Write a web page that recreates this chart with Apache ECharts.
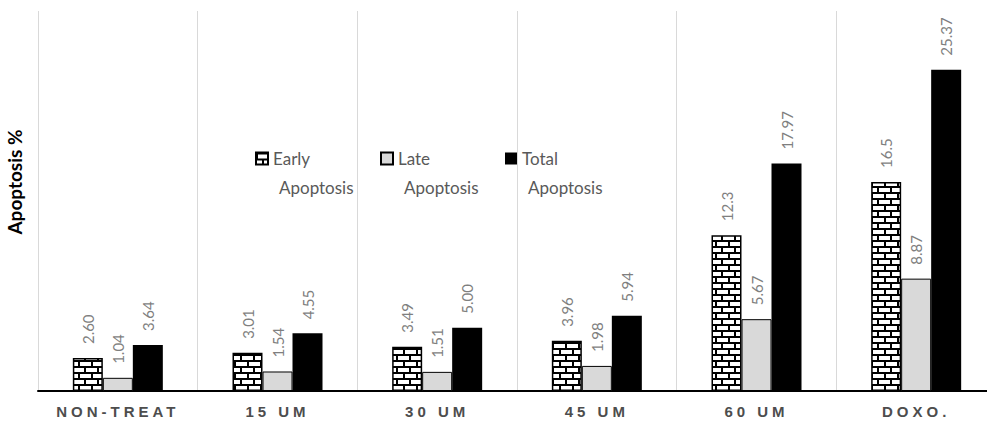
<!DOCTYPE html>
<html>
<head>
<meta charset="utf-8">
<script src="https://cdn.jsdelivr.net/npm/echarts@6/dist/echarts.min.js"></script>
<style>
  html, body { margin: 0; padding: 0; background: #fff; overflow: hidden; }
  /* the plot runs slightly past the right edge of the page */
  #chart { width: 1000px; height: 422px; }
  /* spaced-out category labels */
  #chart text[style*="Liberation Sans"],
  #chart text[font-family*="Liberation Sans"] { letter-spacing: 4px; }
</style>
</head>
<body>
<div id="chart"></div>
<script>
const categories = ['NON-TREAT', '15 UM', '30 UM', '45 UM', '60 UM', 'DOXO.'];
const seriesNames = ['Early Apoptosis', 'Late Apoptosis', 'Total Apoptosis'];
const earlyLabels = ['2.60', '3.01', '3.49', '3.96', '12.3', '16.5'];
const lateLabels = ['1.04', '1.54', '1.51', '1.98', '5.67', '8.87'];
const totalLabels = ['3.64', '4.55', '5.00', '5.94', '17.97', '25.37'];
const yMin = 0;
const yMax = 30;

const earlyValues = earlyLabels.map(Number);
const lateValues = lateLabels.map(Number);
const totalValues = totalLabels.map(Number);

// brick-wall fill tile
function brickTile() {
  const w = 13, h = 12;
  const c = document.createElement('canvas');
  c.width = w; c.height = h;
  const g = c.getContext('2d');
  g.fillStyle = '#fff';
  g.fillRect(0, 0, w, h);
  g.fillStyle = '#000';
  g.fillRect(0, 0, w, 2);
  g.fillRect(0, 6, w, 2);
  g.fillRect(0, 0, 2, 6);
  g.fillRect(6, 6, 2, 6);
  return c;
}
const tile = brickTile();

function valueLabel(texts) {
  return {
    show: true,
    position: 'top',
    rotate: 90,
    align: 'left',
    verticalAlign: 'middle',
    distance: 14,
    color: '#7f7f7f',
    fontFamily: 'Lato',
    fontSize: 15,
    formatter: p => texts[p.dataIndex]
  };
}

const legendFont = { fontSize: 17, fontFamily: 'Lato', color: '#595959', lineHeight: 29 };

const chart = echarts.init(document.getElementById('chart'), null, { renderer: 'svg' });
chart.setOption({
  animation: false,
  backgroundColor: '#fff',
  grid: { left: 38, top: 11, width: 958, height: 380, outerBoundsMode: 'none' },
  legend: {
    left: 250,
    top: 116,
    icon: 'rect',
    itemWidth: 12,
    itemHeight: 12,
    itemGap: 7,
    formatter: name => {
      const parts = name.split(' ');
      return '{s| }\n{a|' + parts[0] + '}\n{b|' + parts.slice(1).join(' ') + '}';
    },
    textStyle: {
      color: '#595959',
      fontFamily: 'Lato',
      fontSize: 17,
      rich: {
        s: Object.assign({ width: 100 }, legendFont),
        a: Object.assign({}, legendFont),
        b: Object.assign({ padding: [0, 0, 0, 6] }, legendFont)
      }
    },
    data: seriesNames
  },
  xAxis: {
    type: 'category',
    data: categories,
    axisTick: { show: false },
    axisLine: { lineStyle: { color: '#000', width: 2 } },
    splitLine: { show: true, lineStyle: { color: '#d9d9d9', width: 1 } },
    axisLabel: {
      color: '#4d4d4d',
      fontFamily: 'Liberation Sans',
      fontWeight: 'bold',
      fontSize: 15,
      margin: 13
    }
  },
  yAxis: {
    type: 'value',
    min: yMin,
    max: yMax,
    axisLabel: { show: false },
    axisTick: { show: false },
    axisLine: { show: false },
    splitLine: { show: false },
    name: 'Apoptosis %',
    nameLocation: 'middle',
    nameGap: 14,
    nameTextStyle: {
      color: '#000',
      fontFamily: 'Lato',
      fontWeight: 'bold',
      fontSize: 19,
      padding: [0, 0, 0, 38]
    }
  },
  series: [
    {
      name: seriesNames[0],
      type: 'bar',
      barWidth: 30,
      barGap: '0%',
      data: earlyValues,
      itemStyle: {
        color: { image: tile, repeat: 'repeat', imageWidth: tile.width, imageHeight: tile.height },
        borderColor: '#000',
        borderWidth: 1.5
      },
      label: valueLabel(earlyLabels)
    },
    {
      name: seriesNames[1],
      type: 'bar',
      barWidth: 30,
      barGap: '0%',
      data: lateValues,
      itemStyle: { color: '#d9d9d9', borderColor: '#000', borderWidth: 1 },
      label: valueLabel(lateLabels)
    },
    {
      name: seriesNames[2],
      type: 'bar',
      barWidth: 30,
      barGap: '0%',
      data: totalValues,
      itemStyle: { color: '#000' },
      label: valueLabel(totalLabels)
    }
  ]
});
</script>
</body>
</html>
